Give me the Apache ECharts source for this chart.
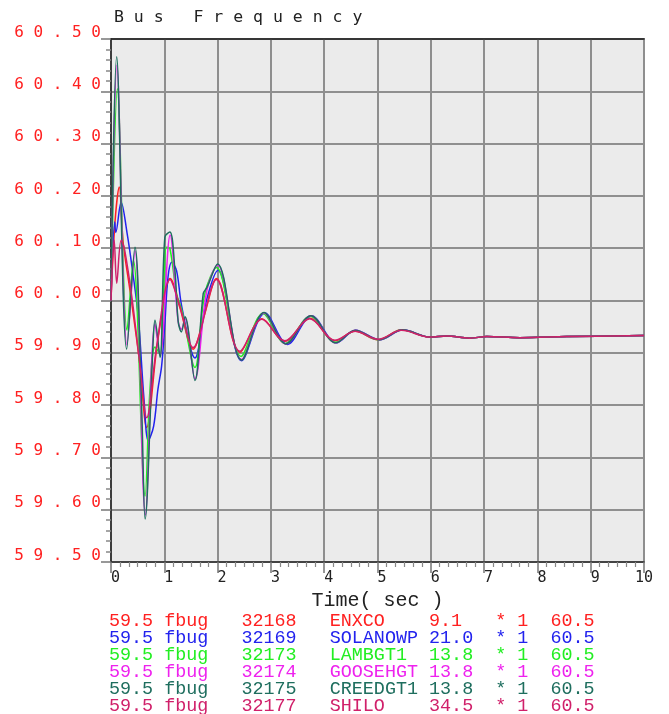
<!DOCTYPE html>
<html>
<head>
<meta charset="utf-8">
<script src="https://cdn.jsdelivr.net/npm/echarts@6/dist/echarts.min.js"></script>
<style>
html,body{margin:0;padding:0;background:#fff;}
#chart{width:669px;height:714px;}
</style>
</head>
<body>
<div id="chart"></div>
<script>
// ---- data ----
const titleText = 'Bus Frequency';
const xName = 'Time( sec )';
const xTickLabels = ['0','1','2','3','4','5','6','7','8','9','10'];
const yTickLabels = ['59.50','59.60','59.70','59.80','59.90','60.00','60.10','60.20','60.30','60.40','60.50'];

const busNames = ['ENXCO','SOLANOWP','LAMBGT1','GOOSEHGT','CREEDGT1','SHILO'];
const busNums  = ['32168','32169','32173','32174','32175','32177'];
const busKV    = ['9.1','21.0','13.8','13.8','13.8','34.5'];
const loLimit  = '59.5';
const hiLimit  = '60.5';
const signal   = 'fbug';
const mult     = '1';
const colors   = ['#ff2020','#2222ee','#22ee22','#ee22ee','#1e6e5e','#d0206a'];

const tENXCO = [0, 0.075, 0.155, 0.23, 0.356, 0.54, 0.67, 0.86, 1.04, 1.106, 1.29, 1.54, 1.76, 1.98, 2.42, 2.83, 3.26, 3.73, 4.20, 4.58, 5.01, 5.45];
const fENXCO = [60.000, 60.150, 60.217, 60.109, 60.019, 59.879, 59.757, 59.911, 60.025, 60.042, 59.987, 59.907, 59.975, 60.042, 59.901, 59.965, 59.922, 59.966, 59.923, 59.941, 59.925, 59.944];

const tSOLANOWP = [0, 0.07, 0.09, 0.19, 0.30, 0.40, 0.51, 0.62, 0.70, 0.80, 0.88, 0.95, 1.01, 1.07, 1.14, 1.23, 1.33, 1.575, 1.79, 2.01, 2.45, 2.89, 3.31, 3.76, 4.23, 4.59, 5.04, 5.48];
const fSOLANOWP = [60.000, 60.150, 60.130, 60.188, 60.130, 60.060, 59.970, 59.810, 59.732, 59.760, 59.830, 59.875, 59.955, 60.045, 60.073, 60.057, 59.987, 59.890, 60.000, 60.058, 59.885, 59.976, 59.916, 59.971, 59.919, 59.943, 59.925, 59.944];

const tLAMBGT1 = [0, 0.12, 0.30, 0.42, 0.64, 0.73, 0.825, 0.92, 1.04, 1.106, 1.23, 1.33, 1.575, 1.76, 1.98, 2.44, 2.85, 3.27, 3.74, 4.21, 4.58, 5.02, 5.46];
const fLAMBGT1 = [60.000, 60.405, 59.943, 60.077, 59.626, 59.828, 59.911, 59.898, 60.102, 60.099, 60.013, 59.981, 59.872, 60.013, 60.063, 59.893, 59.975, 59.918, 59.970, 59.920, 59.942, 59.925, 59.944];

const tGOOSEHGT = [0, 0.11, 0.30, 0.45, 0.645, 0.825, 0.92, 1.11, 1.26, 1.32, 1.39, 1.575, 1.80, 2.0, 2.45, 2.87, 3.28, 3.75, 4.22, 4.58, 5.03, 5.47];
const fGOOSEHGT = [60.000, 60.450, 59.915, 60.095, 59.590, 59.955, 59.895, 60.125, 59.960, 59.945, 59.965, 59.850, 60.020, 60.068, 59.887, 59.976, 59.917, 59.971, 59.919, 59.943, 59.925, 59.944];

const tCREEDGT1 = [0, 0.106, 0.294, 0.45, 0.575, 0.64, 0.79, 0.825, 0.92, 1.01, 1.106, 1.20, 1.26, 1.32, 1.39, 1.575, 1.73, 1.80, 2.0, 2.45, 2.87, 3.28, 3.75, 4.22, 4.58, 5.03, 5.47];
const fCREEDGT1 = [60.000, 60.466, 59.907, 60.102, 59.796, 59.582, 59.920, 59.962, 59.891, 60.121, 60.131, 60.057, 59.960, 59.940, 59.969, 59.847, 60.013, 60.025, 60.070, 59.886, 59.977, 59.917, 59.971, 59.919, 59.943, 59.925, 59.944];

const tSHILO = [0, 0.06, 0.107, 0.19, 0.25, 0.40, 0.55, 0.67, 0.86, 1.106, 1.29, 1.54, 1.98, 2.42, 2.83, 3.26, 3.73, 4.20, 4.58, 5.01, 5.45];
const fSHILO = [60.000, 60.115, 60.033, 60.115, 60.100, 60.000, 59.870, 59.776, 59.915, 60.040, 59.990, 59.910, 60.040, 59.903, 59.964, 59.923, 59.965, 59.924, 59.941, 59.926, 59.943];

const tTail = [5.98, 6.30, 6.73, 7.05, 7.67, 8.55, 10];
const fTail = [59.930, 59.932, 59.928, 59.931, 59.929, 59.931, 59.933];

// ---- build ----
const seriesT = [tENXCO, tSOLANOWP, tLAMBGT1, tGOOSEHGT, tCREEDGT1, tSHILO];
const seriesF = [fENXCO, fSOLANOWP, fLAMBGT1, fGOOSEHGT, fCREEDGT1, fSHILO];
function pairs(t, f) {
  const out = t.map((x, i) => [x, f[i]]);
  tTail.forEach((x, i) => out.push([x, fTail[i]]));
  return out;
}
function spaced(s) { return s.split('').join(' '); }
function legendRow(i) {
  return loLimit.padEnd(5) + signal.padEnd(7) + busNums[i].padEnd(8) +
         busNames[i].padEnd(9) + busKV[i].padEnd(6) + '* ' + mult + '  ' + hiLimit;
}

const chart = echarts.init(document.getElementById('chart'), null, {renderer: 'canvas'});
const option = {
  animation: false,
  backgroundColor: '#ffffff',
  title: {
    text: spaced(titleText), left: 109, top: 4,
    textStyle: {fontFamily: 'DejaVu Sans Mono', fontSize: 16.5, fontWeight: 'normal', color: '#222'}
  },
  grid: {
    left: 111, right: 25, top: 39, bottom: 152,
    show: true, backgroundColor: '#ebebeb', borderColor: '#8c8c8c', borderWidth: 2
  },
  legend: busNames.map((n, i) => ({
    orient: 'vertical', left: 104, top: 612 + 17 * i, padding: 0,
    icon: 'none', itemWidth: 0, itemHeight: 17, itemGap: 0,
    selectedMode: false,
    textStyle: {fontFamily: 'Liberation Mono', fontSize: 18.4, lineHeight: 17, padding: 0},
    formatter: function (name) { return legendRow(busNames.indexOf(name)); },
    data: [{name: n, textStyle: {color: colors[i]}}]
  })),
  xAxis: [{
    type: 'value', min: 0, max: 10, interval: 1, position: 'bottom',
    axisLine: {show: true, onZero: false, lineStyle: {color: '#333', width: 1.5}},
    axisTick: {show: true, length: 11, lineStyle: {color: '#777', width: 1.5}},
    minorTick: {show: true, splitNumber: 6, length: 5, lineStyle: {color: '#888', width: 1.2}},
    splitLine: {show: true, lineStyle: {color: '#8e8e8e', width: 2}},
    axisLabel: {
      margin: 9, align: 'left', alignMaxLabel: 'center', color: '#222',
      fontFamily: 'DejaVu Sans Mono', fontSize: 15,
      formatter: function (v) { return xTickLabels[Math.round(v)]; }
    },
    name: xName, nameLocation: 'middle', nameGap: 28,
    nameTextStyle: {fontFamily: 'Liberation Mono', fontSize: 20, color: '#222'}
  }, {
    type: 'value', min: 0, max: 10, position: 'top',
    axisLine: {show: true, lineStyle: {color: '#222', width: 1.5}},
    axisTick: {show: false}, axisLabel: {show: false}, splitLine: {show: false}
  }],
  yAxis: {
    type: 'value', min: 59.5, max: 60.5, interval: 0.1,
    axisLine: {show: true, lineStyle: {color: '#222', width: 1.5}},
    axisTick: {show: true, length: 10, lineStyle: {color: '#777', width: 1.5}},
    minorTick: {show: true, splitNumber: 5, length: 5, lineStyle: {color: '#888', width: 1.5}},
    splitLine: {show: true, lineStyle: {color: '#707070', width: 1.5}},
    axisLabel: {
      margin: 10, color: '#ff2020', fontFamily: 'DejaVu Sans Mono', fontSize: 16,
      verticalAlign: 'bottom', lineHeight: 13,
      formatter: function (v) { return spaced(yTickLabels[Math.round((v - 59.5) * 10)]); }
    }
  },
  series: busNames.map((n, i) => ({
    name: n, type: 'line', xAxisIndex: 0,
    data: pairs(seriesT[i], seriesF[i]),
    showSymbol: false, symbol: 'none', smooth: 0.35,
    color: colors[i],
    lineStyle: {color: colors[i], width: 1.5}
  }))
};
chart.setOption(option);
</script>
</body>
</html>
